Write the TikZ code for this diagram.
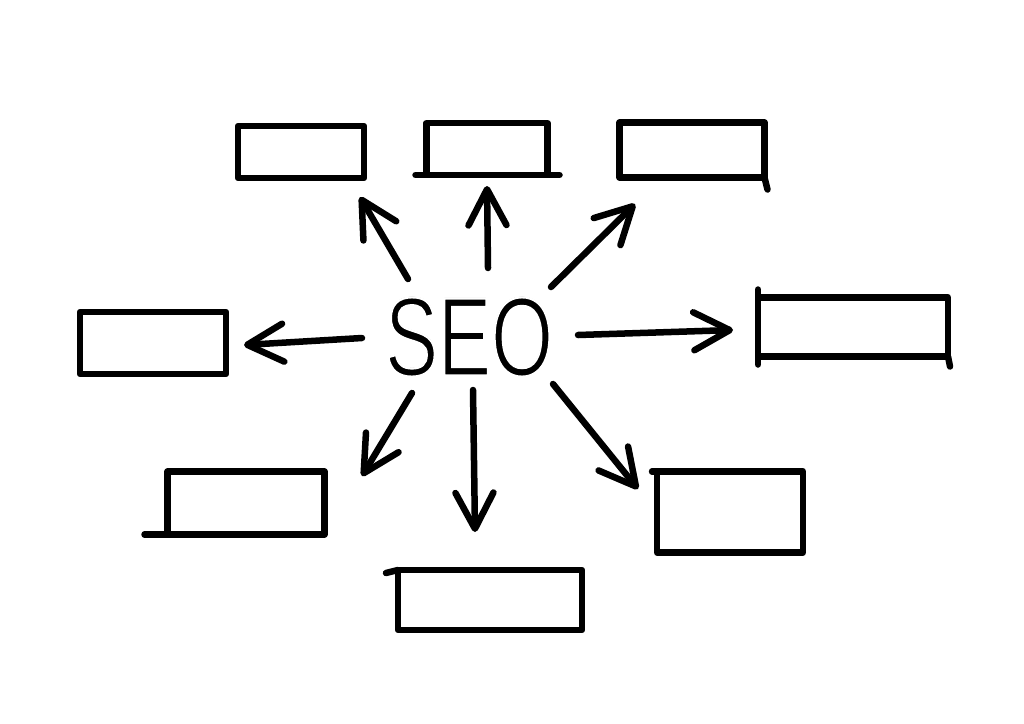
\documentclass[tikz,border=0pt]{standalone}
\usepackage{fontspec}
\setmainfont{Liberation Sans}
\usetikzlibrary{arrows.meta}
\newcommand\seoword{\fontsize{112}{112}\selectfont SEO}
\begin{document}
\begin{tikzpicture}[x=1pt,y=-1pt,
  box/.style={draw=black,line width=6.5pt,line join=round,inner sep=0pt,outer sep=0pt},
  arr/.style={draw=black,line width=6.5pt,line cap=round,
    -{Straight Barb[length=36pt,width=38pt,round]}},
  ink/.style={draw=black,line width=6.5pt,line cap=round}]
\useasboundingbox[fill=white] (0,0) rectangle (1024,723);
% boxes
\node[box,minimum width=126pt,minimum height=52pt] (b1) at (301,152) {};
\node[box,minimum width=121pt,minimum height=52pt] (b2) at (487,149) {};
\node[box,minimum width=145pt,minimum height=55pt] (b3) at (692,150) {};
\node[box,minimum width=146pt,minimum height=62pt] (b4) at (153,343) {};
\node[box,minimum width=190pt,minimum height=59pt] (b5) at (853,327) {};
\node[box,minimum width=157pt,minimum height=63pt] (b6) at (246,503) {};
\node[box,minimum width=184pt,minimum height=60pt] (b7) at (490,600) {};
\node[box,minimum width=146pt,minimum height=81pt] (b8) at (730,512) {};
% overhanging strokes
\draw[ink] (b2.south west) -- ++(-11,0);
\draw[ink] (b2.south east) -- ++(12,0);
\draw[ink] (b3.south east) -- ++(3,12);
\draw[ink] (b5.north west) -- ++(0,-8);
\draw[ink] (b5.south west) -- ++(0,8);
\draw[ink] (b5.south east) -- ++(2,10);
\draw[ink] (b6.south west) -- ++(-23,0);
\draw[ink] (b7.north west) -- ++(-12,3);
\draw[ink] (b8.north west) -- ++(-5,0);
% centre text, thinned by a white outline stroke over it
\node[inner sep=0pt] (seo) at (469,337)
  {\scalebox{0.71}[1]{\seoword}};
\node[inner sep=0pt] at (seo.center)
  {\scalebox{0.71}[1]{\special{pdf:literal direct 1 Tr 2.2 w 1 1 1 RG}\seoword\special{pdf:literal direct 0 Tr 0 0 0 RG}}};
% arrow end points
\coordinate (s1) at (408,279); \coordinate (e1) at (360,197);
\coordinate (s2) at (488,268); \coordinate (e2) at (487,186);
\coordinate (s3) at (551,287); \coordinate (e3) at (635,204);
\coordinate (s4) at (362,338); \coordinate (e4) at (244,345);
\coordinate (s5) at (578,335); \coordinate (e5) at (733,330);
\coordinate (s6) at (412,393); \coordinate (e6) at (362,476);
\coordinate (s7) at (473,390); \coordinate (e7) at (475,532);
\coordinate (s8) at (553,384); \coordinate (e8) at (638,489);
\foreach \i in {1,...,8} {\draw[arr] (s\i) -- (e\i);}
\end{tikzpicture}
\end{document}
